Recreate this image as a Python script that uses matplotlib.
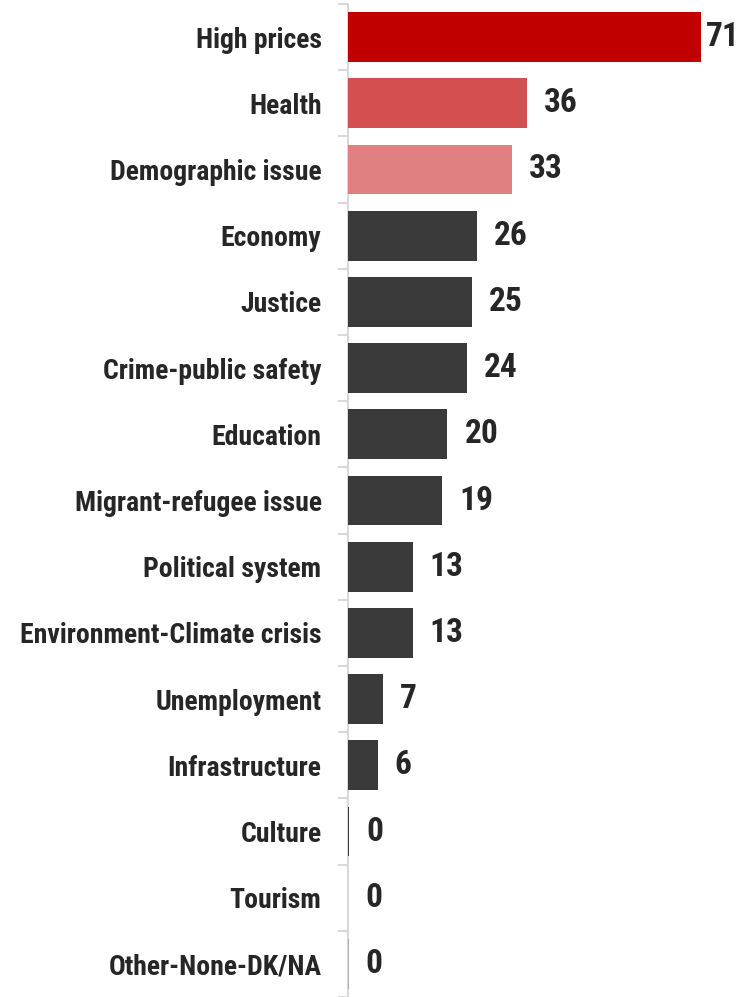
import matplotlib
matplotlib.use("Agg")
import matplotlib.pyplot as plt
from matplotlib.transforms import offset_copy
import numpy as np

plt.rcParams["font.family"] = ["Roboto Condensed", "Barlow Semi Condensed",
                               "Liberation Sans", "DejaVu Sans"]

categories = [
    "High prices", "Health", "Demographic issue", "Economy", "Justice",
    "Crime-public safety", "Education", "Migrant-refugee issue",
    "Political system", "Environment-Climate crisis", "Unemployment",
    "Infrastructure", "Culture", "Tourism", "Other-None-DK/NA",
]
values = [71, 36, 33, 26, 25, 24, 20, 19, 13, 13, 7, 6, 0.3, 0, 0.15]
value_labels = ["71", "36", "33", "26", "25", "24", "20", "19", "13", "13",
                "7", "6", "0", "0", "0"]

DARK = "#3a3a3a"
colors = ["#c00000", "#d44f4f", "#e08080"] + [DARK] * 12
colors[-1] = "#b0b0b0"

fig = plt.figure(figsize=(7.5, 9.97), dpi=100)
ax = fig.add_axes([348 / 750, 0.0, 1 - 348 / 750, 1 - 4 / 997])

y = np.arange(len(categories))
ax.barh(y, values, height=0.75, color=colors, zorder=3)

ax.set_xlim(0, 71 * 402 / 353)
ax.set_ylim(len(categories) - 0.5, -0.5)

# value labels
for i, (v, lab) in enumerate(zip(values, value_labels)):
    dx = 5 if i == 0 else 17
    tr = offset_copy(ax.transData, fig=fig, x=dx, y=0, units="dots")
    ax.text(v, i, lab, transform=tr, ha="left", va="center",
            fontsize=24, fontweight="bold", color="#262626")

ax.set_yticks(y)
ax.set_yticklabels(categories, fontsize=20, fontweight="bold", color="#262626")
ax.tick_params(axis="y", which="major", length=0, pad=19)
ax.set_yticks(np.arange(-0.5, len(categories) - 0.4, 1), minor=True)
ax.tick_params(axis="y", which="minor", length=7, width=1.5, color="#d9d9d9")
ax.set_xticks([])

for s in ["top", "right", "bottom"]:
    ax.spines[s].set_visible(False)
ax.spines["left"].set_color("#d9d9d9")
ax.spines["left"].set_linewidth(1.5)
ax.spines["left"].set_zorder(1)

fig.savefig("out.png", dpi=100)
